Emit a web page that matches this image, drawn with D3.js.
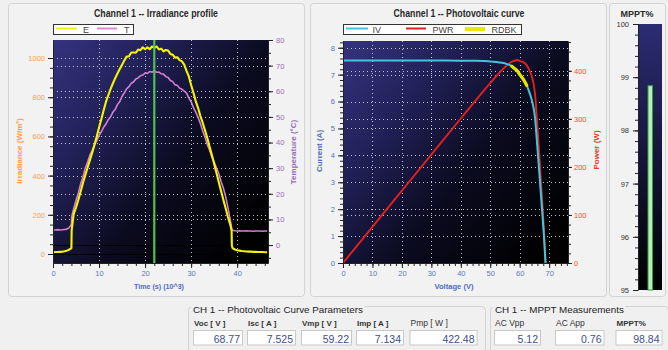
<!DOCTYPE html>
<html>
<head>
<meta charset="utf-8">
<script src="https://cdn.jsdelivr.net/npm/d3@7"></script>
<style>
  html, body { margin: 0; padding: 0; background: #f0f0f0; }
  svg { display: block; font-family: "Liberation Sans", Arial, sans-serif; }
</style>
</head>
<body>
<svg id="chart" width="668" height="350"></svg>
<script>
// ---- Irradiance / temperature profile (time in 10^3 s) ----
const timeK = [0,0.5,1,1.5,2,2.5,3,3.5,4,4.05,
  4.5,5,5.5,6,6.5,7,7.5,8,8.5,9,9.5,10,10.5,11,11.5,12,12.5,13,13.5,14,14.5,15,15.5,16,16.5,17,17.5,18,18.5,19,19.5,20,
  20.5,21,21.5,22,22.5,23,23.5,24,24.5,25,25.5,26,26.5,27,27.5,28,28.5,29,29.5,30,30.5,31,31.5,32,32.5,33,33.5,34,34.5,35,
  35.5,36,36.5,37,37.5,38,38.5,38.8,38.85,39,39.5,40,40.5,41,41.5,42,42.5,43,43.5,44,44.5,45,45.5,46,46.5];
const irradiance = [9,10,10,11,12,14,17,22,30,120,
  205,238,276,318,362,401,440,478,516,556,599,645,688,733,776,810,841,870,896,921,944,965,988,1007,1009,1028,1028,1027,1043,1040,1055,1045,
  1054,1045,1059,1052,1059,1044,1048,1034,1041,1038,1021,1017,1002,1004,989,983,966,934,906,862,823,780,746,705,671,632,593,548,506,461,
  414,367,322,277,233,189,150,118,42,30,23,19,17,15,14,13,12,12,11,11,10,10,10,9,9];
const temperature = [5.9,5.9,6.0,5.9,6.0,6.1,6.2,6.8,8.0,11.0,
  14.3,17.4,20.3,23.8,26.6,30.0,32.3,35.0,36.8,39.1,40.7,42.8,44.2,46.0,47.2,48.9,50.0,51.8,52.9,54.8,56.0,58.0,59.4,61.0,61.8,63.1,63.7,64.8,65.2,66.1,66.3,67.1,
  67.0,67.7,67.5,67.9,67.4,67.5,66.8,66.7,65.7,65.4,64.2,63.8,62.5,62.3,61.2,60.8,60.1,59.3,57.4,55.9,53.7,51.9,49.8,47.5,44.6,42.2,39.2,37.1,34.4,32.4,
  30.1,27.9,24.8,22.3,18.9,14.6,9.8,6.8,6.2,5.8,5.6,5.5,5.6,5.5,5.5,5.6,5.5,5.5,5.4,5.5,5.5,5.5,5.4,5.5,5.5];
const cursorTime = 22;

const timeTicks = [0, 10, 20, 30, 40];
const irradianceTicks = [0, 200, 400, 600, 800, 1000];
const temperatureTicks = [0, 10, 20, 30, 40, 50, 60, 70, 80];

// ---- Photovoltaic curve ----
const voltage = [0,10,20,30,40,45,48,50,52,54,55.5,57,58,59.22,60.1,61.2,62.3,63.2,64.1,65.2,66.0,66.8,67.5,68.2,68.77];
const current = [7.525,7.525,7.524,7.522,7.518,7.512,7.503,7.492,7.472,7.44,7.40,7.33,7.25,7.134,6.99,6.83,6.62,6.37,6.06,5.4,4.3,3.15,2.1,1.05,0];
const power   = [0,75.3,150.5,225.7,300.7,338.0,360.1,374.6,388.5,401.8,410.7,417.8,420.5,422.48,420.1,418.0,412.4,402.6,388.4,352.1,283.8,210.4,141.8,71.6,0];
const rdbkVoltage = [57.3,58,59.22,60.1,61.2,62.4];
const rdbkCurrent = [7.31,7.25,7.134,6.99,6.83,6.60];

const voltageTicks = [0, 10, 20, 30, 40, 50, 60, 70];
const currentTicks = [0, 1, 2, 3, 4, 5, 6, 7, 8];
const powerTicks = [0, 100, 200, 300, 400];

// ---- MPPT efficiency ----
const mpptPercent = 98.84;
const mpptTicks = [95, 96, 97, 98, 99, 100];

// ---- Parameter readouts ----
const paramLabels = ["Voc [ V ]", "Isc [ A ]", "Vmp [ V ]", "Imp [ A ]", "Pmp [ W ]"];
const paramValues = ["68.77", "7.525", "59.22", "7.134", "422.48"];
const measLabels = ["AC Vpp", "AC App", "MPPT%"];
const measValues = ["5.12", "0.76", "98.84"];

const svg = d3.select("#chart");
const defs = svg.append("defs");

function gradient(id, x2, y2, stops) {
  const g = defs.append("linearGradient").attr("id", id)
    .attr("x1", 0).attr("y1", 0).attr("x2", x2).attr("y2", y2);
  stops.forEach(([o, c]) => g.append("stop").attr("offset", o).attr("stop-color", c));
}
gradient("plotBg", 1, 0.8, [[0, "#35337f"], [0.3, "#222159"], [0.62, "#0b0b20"], [1, "#000000"]]);
gradient("barBg", 0, 1, [[0, "#2c2c74"], [0.5, "#15153a"], [1, "#000000"]]);

function panel(x, y, w, h) {
  svg.append("rect").attr("x", x + 0.5).attr("y", y + 0.5).attr("width", w).attr("height", h)
    .attr("rx", 3).attr("fill", "#f2f2f2").attr("stroke", "#d3d3d3");
}
panel(8, 3, 296, 293);
panel(310, 3, 296, 293);
panel(609, 3, 56, 293);

function addAxis(axisFn, scale, at, majors, minors, color, opt = {}) {
  const size = opt.size ?? 5, minorSize = opt.minorSize ?? 3, pad = opt.pad ?? 3;
  const gMinor = svg.append("g").attr("transform", at)
    .call(axisFn(scale).tickValues(minors).tickSize(minorSize).tickSizeOuter(0).tickFormat(""));
  gMinor.select(".domain").remove();
  gMinor.selectAll(".tick line").attr("stroke", "#222");
  const g = svg.append("g").attr("transform", at)
    .call(axisFn(scale).tickValues(majors).tickSize(size).tickSizeOuter(0).tickPadding(pad).tickFormat(d3.format("d")));
  g.select(".domain").attr("stroke", "#222");
  g.selectAll(".tick line").attr("stroke", "#222");
  g.selectAll(".tick text").attr("fill", color)
    .style("font-size", (opt.font ?? 7.5) + "px").style("font-family", "'Liberation Sans', Arial, sans-serif");
  return g;
}

function hGrid(g, ys, x0, x1) {
  ys.forEach(y => g.append("line").attr("x1", x0).attr("x2", x1).attr("y1", Math.round(y) + 0.5).attr("y2", Math.round(y) + 0.5)
    .attr("stroke", "#ffffff").attr("stroke-opacity", 0.75).attr("stroke-dasharray", "1,3"));
}
function vGrid(g, xs, y0, y1) {
  xs.forEach(x => g.append("line").attr("y1", y0).attr("y2", y1).attr("x1", Math.round(x) + 0.5).attr("x2", Math.round(x) + 0.5)
    .attr("stroke", "#ffffff").attr("stroke-opacity", 0.75).attr("stroke-dasharray", "1,3"));
}

function title(text, cx, width) {
  svg.append("text").attr("x", cx).attr("y", 17).attr("text-anchor", "middle")
    .attr("textLength", width).attr("lengthAdjust", "spacingAndGlyphs")
    .style("font-size", "10px").style("font-weight", "bold").attr("fill", "#2a2a2a").text(text);
}
function axisTitle(text, x, y, color, rotate, width) {
  const t = svg.append("text").attr("text-anchor", "middle")
    .style("font-size", "8px").style("font-weight", "bold").attr("fill", color).text(text);
  if (width) t.attr("textLength", width).attr("lengthAdjust", "spacingAndGlyphs");
  if (rotate) t.attr("transform", `translate(${x},${y}) rotate(-90)`);
  else t.attr("x", x).attr("y", y);
}

// ================= Irradiance profile =================
const L = { x0: 53, x1: 268, y0: 40, y1: 263 };
const xT = d3.scaleLinear().domain([0, 46.7]).range([L.x0, L.x1]);
const yE = d3.scaleLinear().domain([-46, 1092]).range([L.y1, L.y0]);
const yC = d3.scaleLinear().domain([-7, 80]).range([L.y1, L.y0]);

title("Channel 1 -- Irradiance profile", 156, 124);

// legend
const legL = svg.append("g");
legL.append("rect").attr("x", 53.5).attr("y", 24.5).attr("width", 80).attr("height", 10).attr("fill", "#fff").attr("stroke", "#333");
legL.append("line").attr("x1", 56).attr("x2", 77).attr("y1", 28.5).attr("y2", 28.5).attr("stroke", "#f2f200").attr("stroke-width", 2);
legL.append("text").attr("x", 83).attr("y", 32.6).style("font-size", "9px").attr("fill", "#444").text("E");
legL.append("line").attr("x1", 97).attr("x2", 117).attr("y1", 28.5).attr("y2", 28.5).attr("stroke", "#d889d8").attr("stroke-width", 2);
legL.append("text").attr("x", 124).attr("y", 32.6).style("font-size", "9px").attr("fill", "#444").text("T");

const gL = svg.append("g");
gL.append("rect").attr("x", L.x0).attr("y", L.y0).attr("width", L.x1 - L.x0).attr("height", L.y1 - L.y0).attr("fill", "url(#plotBg)");
defs.append("clipPath").attr("id", "clipL").append("rect").attr("x", L.x0).attr("y", L.y0).attr("width", L.x1 - L.x0).attr("height", L.y1 - L.y0);
hGrid(gL, irradianceTicks.slice(1).map(yE), L.x0, L.x1);
hGrid(gL, temperatureTicks.slice(1, -1).map(yC), L.x0, L.x1);
vGrid(gL, timeTicks.slice(1).map(xT), L.y0, L.y1);
// zero references
[yE(0), yC(0)].forEach(y => gL.append("line").attr("x1", L.x0).attr("x2", L.x1)
  .attr("y1", Math.round(y) + 0.5).attr("y2", Math.round(y) + 0.5).attr("stroke", "#000").attr("stroke-width", 1));

const dataL = gL.append("g").attr("clip-path", "url(#clipL)");
dataL.append("path").datum(temperature)
  .attr("d", d3.line().x((d, i) => xT(timeK[i])).y(d => yC(d)))
  .attr("fill", "none").attr("stroke", "#d27fd2").attr("stroke-width", 1.6);
dataL.append("path").datum(irradiance)
  .attr("d", d3.line().x((d, i) => xT(timeK[i])).y(d => yE(d)))
  .attr("fill", "none").attr("stroke", "#f5f500").attr("stroke-width", 2.1).attr("stroke-linejoin", "round");
dataL.append("line").attr("x1", xT(cursorTime)).attr("x2", xT(cursorTime)).attr("y1", L.y0).attr("y2", L.y1)
  .attr("stroke", "#4cc44c").attr("stroke-width", 2.2);

addAxis(d3.axisLeft, yE, `translate(${L.x0},0)`, irradianceTicks, d3.range(0, 21).map(i => i * 50), "#ff9d45");
addAxis(d3.axisRight, yC, `translate(${L.x1},0)`, temperatureTicks, d3.range(-1, 17).map(i => i * 5), "#9b6bbd");
addAxis(d3.axisBottom, xT, `translate(0,${L.y1})`, timeTicks, d3.range(0, 24).map(i => i * 2), "#5b78c6");

axisTitle("Irradiance (W/m²)", 21.5, 151, "#ff9d45", true);
axisTitle("Temperature (°C)", 296, 152, "#9b6bbd", true);
axisTitle("Time (s) (10^3)", 159, 288.5, "#4f6cc0", false, 50);

// ================= Photovoltaic curve =================
const R = { x0: 343, x1: 568, y0: 41, y1: 263 };
const xV = d3.scaleLinear().domain([0, 76.4]).range([R.x0, R.x1]);
const yI = d3.scaleLinear().domain([0, 8.25]).range([R.y1, R.y0]);
const yP = d3.scaleLinear().domain([0, 462]).range([R.y1, R.y0]);

title("Channel 1 -- Photovoltaic curve", 459, 131);

const legR = svg.append("g");
legR.append("rect").attr("x", 343.5).attr("y", 24.5).attr("width", 178).attr("height", 10).attr("fill", "#fff").attr("stroke", "#333");
legR.append("line").attr("x1", 346).attr("x2", 368).attr("y1", 28.5).attr("y2", 28.5).attr("stroke", "#3ec6de").attr("stroke-width", 2);
legR.append("text").attr("x", 372.5).attr("y", 32.6).style("font-size", "9px").attr("fill", "#444").text("IV");
legR.append("line").attr("x1", 406).attr("x2", 426).attr("y1", 28.5).attr("y2", 28.5).attr("stroke", "#e02222").attr("stroke-width", 2);
legR.append("text").attr("x", 432.5).attr("y", 32.6).style("font-size", "9px").attr("fill", "#444").text("PWR");
legR.append("rect").attr("x", 465).attr("y", 27).attr("width", 20).attr("height", 4).attr("fill", "#eaea00");
legR.append("text").attr("x", 491.5).attr("y", 32.6).style("font-size", "9px").attr("fill", "#444").text("RDBK");

const gR = svg.append("g");
gR.append("rect").attr("x", R.x0).attr("y", R.y0).attr("width", R.x1 - R.x0).attr("height", R.y1 - R.y0).attr("fill", "url(#plotBg)");
defs.append("clipPath").attr("id", "clipR").append("rect").attr("x", R.x0).attr("y", R.y0).attr("width", R.x1 - R.x0).attr("height", R.y1 - R.y0);
hGrid(gR, currentTicks.slice(1).map(yI), R.x0, R.x1);
hGrid(gR, powerTicks.slice(1).map(yP), R.x0, R.x1);
vGrid(gR, voltageTicks.slice(1).map(xV), R.y0, R.y1);

const dataR = gR.append("g").attr("clip-path", "url(#clipR)");
dataR.append("path").datum(power)
  .attr("d", d3.line().curve(d3.curveMonotoneX).x((d, i) => xV(voltage[i])).y(d => yP(d)))
  .attr("fill", "none").attr("stroke", "#e32020").attr("stroke-width", 1.9);
dataR.append("path").datum(current)
  .attr("d", d3.line().curve(d3.curveMonotoneX).x((d, i) => xV(voltage[i])).y(d => yI(d)))
  .attr("fill", "none").attr("stroke", "#3ec6de").attr("stroke-width", 2);
dataR.append("path").datum(rdbkCurrent)
  .attr("d", d3.line().curve(d3.curveMonotoneX).x((d, i) => xV(rdbkVoltage[i])).y(d => yI(d)))
  .attr("fill", "none").attr("stroke", "#e6e600").attr("stroke-width", 3.2).attr("stroke-linecap", "round");

addAxis(d3.axisLeft, yI, `translate(${R.x0},0)`, currentTicks, d3.range(0, 42).map(i => i * 0.2), "#5470c4");
addAxis(d3.axisRight, yP, `translate(${R.x1},0)`, powerTicks, d3.range(0, 24).map(i => i * 20), "#ff4a2a", { size: 4, pad: 2 });
addAxis(d3.axisBottom, xV, `translate(0,${R.y1})`, voltageTicks, d3.range(0, 39).map(i => i * 2), "#5b78c6");

axisTitle("Current (A)", 322, 151, "#4f6cc0", true);
axisTitle("Power (W)", 598.5, 150, "#e33a2a", true);
axisTitle("Voltage (V)", 454, 288.5, "#4f6cc0", false, 39);

// ================= MPPT % bar =================
const M = { x0: 638, x1: 662, y0: 24, y1: 290 };
const yM = d3.scaleLinear().domain([95, 100]).range([M.y1, M.y0]);
svg.append("text").attr("x", 637).attr("y", 17).attr("text-anchor", "middle")
  .style("font-size", "9px").style("font-weight", "bold").attr("fill", "#2a2a2a").text("MPPT%");
svg.append("rect").attr("x", M.x0).attr("y", M.y0).attr("width", M.x1 - M.x0).attr("height", M.y1 - M.y0).attr("fill", "url(#barBg)");
svg.append("rect").attr("x", 648).attr("y", yM(mpptPercent)).attr("width", 4.5).attr("height", yM(95) - yM(mpptPercent))
  .attr("fill", "#b8eeb8").attr("stroke", "#2f9e40").attr("stroke-width", 1);
addAxis(d3.axisLeft, yM, `translate(${M.x0},0)`, mpptTicks, d3.range(0, 26).map(i => 95 + i * 0.2), "#333", { pad: 4 });

// ================= Readout group boxes =================
function groupBox(x, y, w, h, label, labelW) {
  svg.append("rect").attr("x", x + 0.5).attr("y", y + 0.5).attr("width", w).attr("height", h)
    .attr("rx", 4).attr("fill", "none").attr("stroke", "#d2d2d2");
  svg.append("rect").attr("x", x + 3).attr("y", y - 2).attr("width", labelW).attr("height", 6).attr("fill", "#f0f0f0");
  svg.append("text").attr("x", x + 5).attr("y", y + 7).style("font-size", "9.8px").attr("fill", "#222").text(label);
}
function field(label, value, bx, bw, bold) {
  svg.append("text").attr("x", bx + 1).attr("y", 325.5)
    .style("font-size", bold ? "8px" : "8.5px").style("font-weight", bold ? "bold" : "normal")
    .attr("fill", "#333").text(label);
  svg.append("rect").attr("x", bx + 0.5).attr("y", 330.5).attr("width", bw).attr("height", 14.5)
    .attr("fill", "#ffffff").attr("stroke", "#c8c8c8");
  svg.append("text").attr("x", bx + bw - 2).attr("y", 342.5).attr("text-anchor", "end")
    .style("font-size", "10.5px").attr("fill", "#3d4e8e").text(value);
}

groupBox(188, 306, 297, 50, "CH 1 -- Photovoltaic Curve Parameters", 174);
const paramBoxes = [[193, 49], [247, 48], [301, 50], [356, 47], [409.5, 67]];
paramLabels.forEach((lab, i) => field(lab, paramValues[i], paramBoxes[i][0], paramBoxes[i][1], i < 4));

groupBox(490, 306, 178, 50, "CH 1 -- MPPT Measurements", 132);
const measBoxes = [[494, 46], [555, 48.5], [615.5, 46]];
measLabels.forEach((lab, i) => field(lab, measValues[i], measBoxes[i][0], measBoxes[i][1], i === 2));
</script>
</body>
</html>
